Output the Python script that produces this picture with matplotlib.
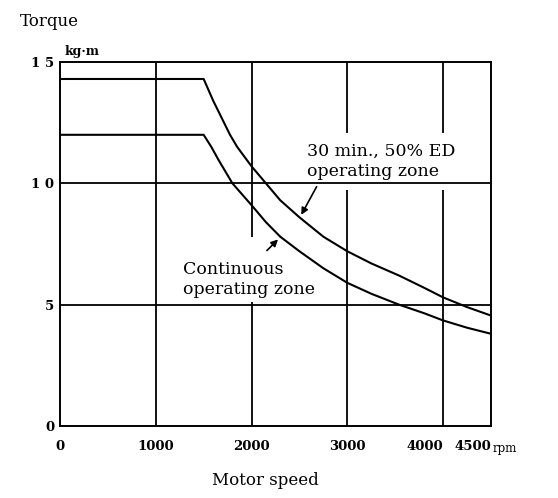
import matplotlib
matplotlib.use('Agg')
from matplotlib import pyplot as plt
from matplotlib.patches import Rectangle

plt.rcParams['font.family'] = 'DejaVu Serif'

# values (rpm, kg·m)
speed_30min = [0, 1500, 1600, 1700, 1775, 1850, 2000, 2150, 2300, 2500, 2750, 3000, 3250, 3540, 3800, 4000, 4250, 4500]
torque_30min = [14.3, 14.3, 13.4, 12.6, 12.0, 11.5, 10.7, 10.0, 9.3, 8.6, 7.8, 7.2, 6.7, 6.2, 5.7, 5.3, 4.9, 4.55]
speed_cont = [0, 1500, 1580, 1650, 1800, 2000, 2150, 2300, 2500, 2750, 3000, 3250, 3540, 3800, 4000, 4250, 4500]
torque_cont = [12.0, 12.0, 11.5, 11.0, 10.0, 9.1, 8.4, 7.8, 7.2, 6.5, 5.9, 5.45, 5.0, 4.65, 4.35, 4.05, 3.8]

x_ticks = [0, 1000, 2000, 3000, 4000, 4500]
x_labels = ['0', '1000', '2000', '3000', '4000', '4500']
y_ticks = [0, 5, 10, 15]
y_labels = ['0', '5', '1 0', '1 5']

fig = plt.figure(figsize=(5.58, 4.98), dpi=100)
ax = fig.add_axes([60 / 558, 1 - 426 / 498, 431 / 558, 364 / 498])

ax.set_xlim(0, 4500)
ax.set_ylim(0, 15)
for s in ax.spines.values():
    s.set_linewidth(1.4)
    s.set_zorder(6)

# grid: verticals go under the label boxes, horizontals over them
for x in x_ticks[1:-1]:
    ax.axvline(x, color='black', lw=1.3, zorder=1)
for y in [5, 10]:
    ax.axhline(y, color='black', lw=1.3, zorder=3.5)

ax.plot(speed_30min, torque_30min, color='black', lw=1.5, zorder=4)
ax.plot(speed_cont, torque_cont, color='black', lw=1.5, zorder=4)

ax.set_xticks(x_ticks, x_labels, fontsize=9.5, fontweight='bold')
ax.set_yticks(y_ticks, y_labels, fontsize=9.5, fontweight='bold')
ax.tick_params(length=0, pad=10)
ax.tick_params(axis='y', pad=4)
ax.get_xticklabels()[-1].set_horizontalalignment('right')
ax.get_xticklabels()[-2].set_horizontalalignment('right')

ax.text(2578, 10.9, '30 min., 50% ED\noperating zone', fontsize=12.5, ha='left', va='center',
        linespacing=1.25, zorder=3,
        bbox=dict(facecolor='white', edgecolor='none', pad=7))
ax.text(1284, 6.05, 'Continuous\noperating zone', fontsize=12.5, ha='left', va='center',
        linespacing=1.25, zorder=3,
        bbox=dict(facecolor='white', edgecolor='none', pad=2))
# white gap in the 2000 rpm line above the lower label
ax.add_patch(Rectangle((1950, 5.1), 100, 2.7, facecolor='white', edgecolor='none', zorder=2))

ax.annotate('', xy=(2505, 8.6), xytext=(2693, 9.96),
            arrowprops=dict(arrowstyle='-|>', color='black', lw=1.2, mutation_scale=10), zorder=5)
ax.annotate('', xy=(2297, 7.77), xytext=(2140, 7.15),
            arrowprops=dict(arrowstyle='-|>', color='black', lw=1.2, mutation_scale=10), zorder=5)

fig.text(20 / 558, 1 - 22 / 498, 'Torque', fontsize=12, ha='left', va='center')
fig.text(65 / 558, 1 - 51 / 498, 'kg·m', fontsize=9, fontweight='bold', ha='left', va='center')
fig.text(493 / 558, 1 - 448 / 498, 'rpm', fontsize=8.5, ha='left', va='center')
fig.text(265 / 558, 1 - 480 / 498, 'Motor speed', fontsize=12, ha='center', va='center')

fig.savefig('out.png', dpi=100)
